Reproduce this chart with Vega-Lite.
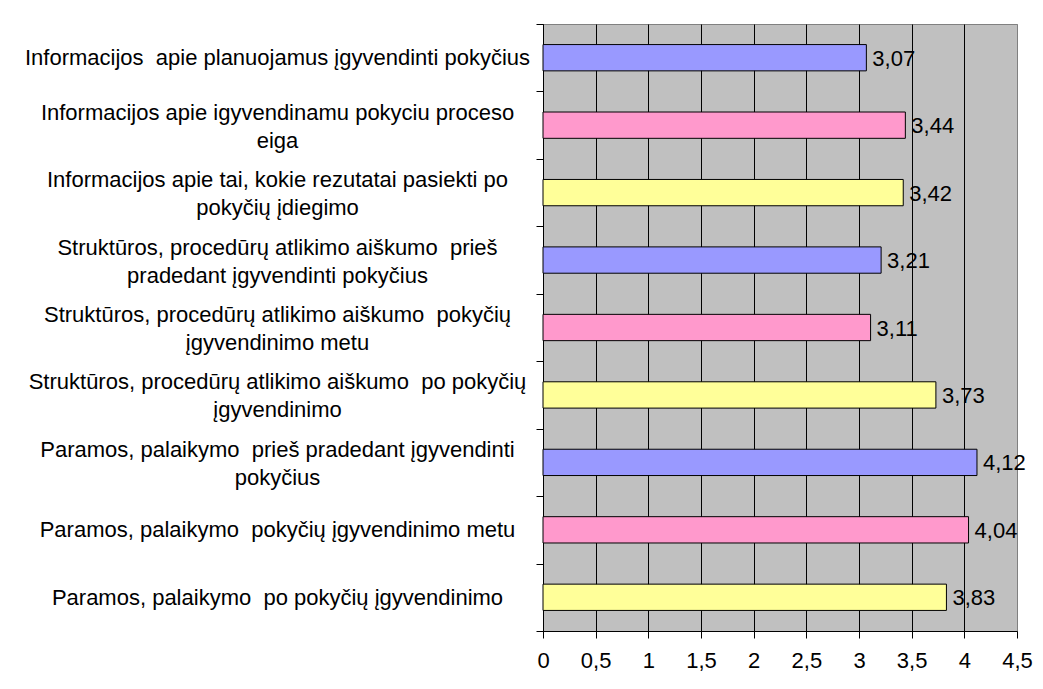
{
  "$schema": "https://vega.github.io/schema/vega-lite/v6.json",
  "autosize": {"type": "none"},
  "padding": {"left": 543, "top": 24, "right": 26, "bottom": 58},
  "width": 474,
  "height": 607,
  "background": "white",
  "config": {
    "locale": {
      "number": {"decimal": ",", "thousands": " ", "grouping": [3], "currency": ["", " €"]}
    },
    "font": "Liberation Sans",
    "view": {"fill": "#C0C0C0", "stroke": "#808080", "strokeWidth": 1}
  },
  "data": {
    "values": [
      {"kriterijus": "Informacijos \u00a0apie planuojamus įgyvendinti pokyčius", "etapas": "prieš", "vidurkis": 3.07},
      {"kriterijus": "Informacijos apie igyvendinamu pokyciu proceso|eiga", "etapas": "metu", "vidurkis": 3.44},
      {"kriterijus": "Informacijos apie tai, kokie rezutatai pasiekti po|pokyčių įdiegimo", "etapas": "po", "vidurkis": 3.42},
      {"kriterijus": "Struktūros, procedūrų atlikimo aiškumo \u00a0prieš|pradedant įgyvendinti pokyčius", "etapas": "prieš", "vidurkis": 3.21},
      {"kriterijus": "Struktūros, procedūrų atlikimo aiškumo \u00a0pokyčių|įgyvendinimo metu", "etapas": "metu", "vidurkis": 3.11},
      {"kriterijus": "Struktūros, procedūrų atlikimo aiškumo \u00a0po pokyčių|įgyvendinimo", "etapas": "po", "vidurkis": 3.73},
      {"kriterijus": "Paramos, palaikymo \u00a0prieš pradedant įgyvendinti|pokyčius", "etapas": "prieš", "vidurkis": 4.12},
      {"kriterijus": "Paramos, palaikymo \u00a0pokyčių įgyvendinimo metu", "etapas": "metu", "vidurkis": 4.04},
      {"kriterijus": "Paramos, palaikymo \u00a0po pokyčių įgyvendinimo", "etapas": "po", "vidurkis": 3.83}
    ]
  },
  "encoding": {
    "y": {
      "field": "kriterijus",
      "type": "nominal",
      "sort": null,
      "scale": {"paddingInner": 0, "paddingOuter": 0},
      "axis": {
        "title": null,
        "domainColor": "black",
        "tickColor": "black",
        "tickSize": 7,
        "tickBand": "extent",
        "labelAlign": "center",
        "labelBaseline": "middle",
        "labelPadding": 259,
        "labelOffset": {"condition": {"test": "indexof(datum.label, '|') >= 0", "value": -13}, "value": 0},
        "labelFontSize": 22,
        "labelLineHeight": 28,
        "labelColor": "black",
        "labelLimit": 700,
        "labelOverlap": false,
        "labelExpr": "split(datum.label, '|')"
      }
    },
    "x": {
      "field": "vidurkis",
      "type": "quantitative",
      "scale": {"domain": [0, 4.5], "nice": false},
      "axis": {
        "title": null,
        "values": [0, 0.5, 1, 1.5, 2, 2.5, 3, 3.5, 4, 4.5],
        "format": ".1~f",
        "grid": true,
        "gridColor": {"condition": {"test": "datum.value >= 4.5", "value": "#808080"}, "value": "black"},
        "gridOpacity": 1,
        "gridWidth": 1,
        "domainColor": "black",
        "tickColor": "black",
        "tickSize": 7,
        "labelPadding": 12,
        "labelFontSize": 22,
        "labelColor": "black",
        "labelFlush": false
      }
    }
  },
  "layer": [
    {
      "mark": {"type": "bar", "height": {"band": 0.39}, "stroke": "black", "strokeWidth": 1},
      "encoding": {
        "color": {
          "field": "etapas",
          "type": "nominal",
          "scale": {"domain": ["prieš", "metu", "po"], "range": ["#9999FF", "#FF99CC", "#FFFF99"]},
          "legend": null
        }
      }
    },
    {
      "mark": {"type": "text", "align": "left", "baseline": "middle", "dx": 6, "dy": 1, "fontSize": 22, "color": "black"},
      "encoding": {
        "text": {"field": "vidurkis", "type": "quantitative", "format": ".2f"}
      }
    }
  ]
}
